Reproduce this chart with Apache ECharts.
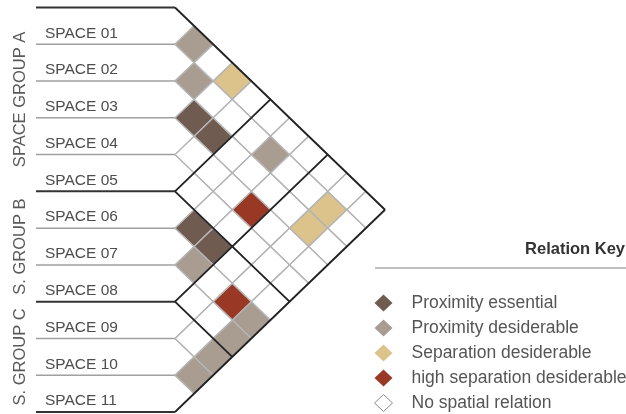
<!DOCTYPE html>
<html><head><meta charset="utf-8">
<script src="https://cdn.jsdelivr.net/npm/echarts@6/dist/echarts.min.js"></script>
<style>html,body{margin:0;padding:0;background:#fff}#c{width:626px;height:414px}</style>
</head><body><div id="c"></div>
<script>
// ---- data ----
const spaces = ['SPACE 01','SPACE 02','SPACE 03','SPACE 04','SPACE 05','SPACE 06','SPACE 07','SPACE 08','SPACE 09','SPACE 10','SPACE 11'];
const groupNames = ['SPACE GROUP A','S. GROUP B','S. GROUP C'];
const groupSizes = [5,3,3];
const relationNames = ['Proximity essential','Proximity desiderable','Separation desiderable','high separation desiderable','No spatial relation'];
const relationCodes = ['E','D','S','H','.'];
const relationColors = ['#6f5b50','#a99c90','#dcc38c','#993824','#ffffff'];
// upper triangle: row i lists the relation of space i with spaces i+1 .. 11
const relationRows = [
  'D.S.......',
  'D...D..S.',
  'EE....S.',
  '...H...',
  '......',
  'EE...',
  'D.HD',
  '..D',
  '.D',
  'D'
];

// ---- layout constants ----
const FONT = 'Liberation Sans';
const XMIN = -7.28;
const N = spaces.length;
const groupBounds = [0];
groupSizes.forEach(s => groupBounds.push(groupBounds[groupBounds.length-1] + s));

// cells per relation: u = j - i, v = (i + j) / 2
const cellData = relationCodes.map(() => []);
relationRows.forEach((row, r) => {
  const i = r + 1;
  for (let k = 0; k < row.length; k++) {
    const j = i + 1 + k;
    const idx = relationCodes.indexOf(row[k]);
    cellData[idx].push([j - i, (i + j) / 2]);
  }
});

// grid lines: [u1, v1, u2, v2, isGroup, isLabelLine]
const lineData = [];
for (let k = 0; k <= N; k++) {
  const v0 = k + 0.5;
  const isG = groupBounds.includes(k) ? 1 : 0;
  lineData.push([XMIN, v0, 0, v0, isG, 1]);
  if (N - k > 0) lineData.push([0, v0, N - k, v0 + (N - k) / 2, isG, 0]);
  if (k > 0) lineData.push([0, v0, k, v0 - k / 2, isG, 0]);
}
const grayLines = lineData.filter(d => !d[4]);
const blackLines = lineData.filter(d => d[4]);

function cellSeries(r) {
  return {
    type: 'custom', name: relationNames[r], z: 2,
    data: cellData[r],
    renderItem: (p, api) => {
      const u = api.value(0), v = api.value(1);
      const pts = [[u-1,v],[u,v-0.5],[u+1,v],[u,v+0.5]].map(q => api.coord(q));
      return { type: 'polygon', shape: { points: pts },
        style: { fill: relationColors[r], stroke: '#b5b5b5', lineWidth: 1.2 } };
    }
  };
}
function lineSeries(data, z) {
  return {
    type: 'custom', z: z, silent: true, data: data,
    renderItem: (p, api) => {
      const a = api.coord([api.value(0), api.value(1)]);
      const b = api.coord([api.value(2), api.value(3)]);
      const g = api.value(4), h = api.value(5);
      let stroke, lw;
      if (g) { stroke = h ? '#333' : '#222'; lw = h ? 2 : 1.8; }
      else { stroke = h ? '#a0a0a0' : '#b5b5b5'; lw = h ? 1.5 : 1.2; }
      return { type: 'line', shape: { x1: a[0], y1: a[1], x2: b[0], y2: b[1] },
        style: { stroke: stroke, lineWidth: lw } };
    }
  };
}

const labelSeries = {
  type: 'custom', z: 5, silent: true,
  data: spaces.map((s, i) => [i, i + 1.5]),
  renderItem: (p, api) => {
    const pt = api.coord([XMIN, api.value(1)]);
    return { type: 'text', x: pt[0] + 9, y: pt[1] - 3,
      style: { text: spaces[api.value(0)], fill: '#4d4d4d', font: '15.5px "' + FONT + '"',
        textAlign: 'left', textVerticalAlign: 'bottom' } };
  }
};
const groupSeries = {
  type: 'custom', z: 5, silent: true,
  data: groupNames.map((g, gi) => [gi, (groupBounds[gi] + groupBounds[gi+1]) / 2 + 0.5]),
  renderItem: (p, api) => {
    const pt = api.coord([XMIN, api.value(1)]);
    return { type: 'text', x: pt[0] - 16, y: pt[1], rotation: Math.PI / 2,
      style: { text: groupNames[api.value(0)], fill: '#5a5a5a', font: '16.5px "' + FONT + '"',
        textAlign: 'center', textVerticalAlign: 'middle' } };
  }
};

const chart = echarts.init(document.getElementById('c'), null, { renderer: 'canvas' });
chart.setOption({
  animation: false,
  backgroundColor: '#fff',
  grid: { left: 36, top: 7.5, width: 349, height: 404.5 },
  xAxis: { type: 'value', min: XMIN, max: N, show: false },
  yAxis: { type: 'value', inverse: true, min: 0.5, max: N + 0.5, show: false },
  title: { text: 'Relation Key', right: 1, top: 241, padding: 0,
    textStyle: { fontSize: 16.5, fontWeight: 'bold', color: '#333', fontFamily: FONT } },
  graphic: [{ type: 'line', shape: { x1: 375, y1: 268, x2: 626, y2: 268 },
    style: { stroke: '#aaa', lineWidth: 1.5 } }],
  legend: {
    orient: 'vertical', left: 374, top: 294, width: 252, height: 160, padding: 0,
    itemWidth: 18, itemHeight: 17, itemGap: 7,
    icon: 'diamond', selectedMode: false,
    textStyle: { fontSize: 17.5, color: '#555', fontFamily: FONT, padding: [0, 0, 0, 14] },
    data: relationNames.map((n, i) => ({ name: n,
      itemStyle: { color: relationColors[i], borderColor: i === 4 ? '#888' : relationColors[i], borderWidth: i === 4 ? 1 : 0 } }))
  },
  series: [0,1,2,3,4].map(cellSeries).concat([
    lineSeries(grayLines, 3), lineSeries(blackLines, 4), labelSeries, groupSeries])
});
</script></body></html>
